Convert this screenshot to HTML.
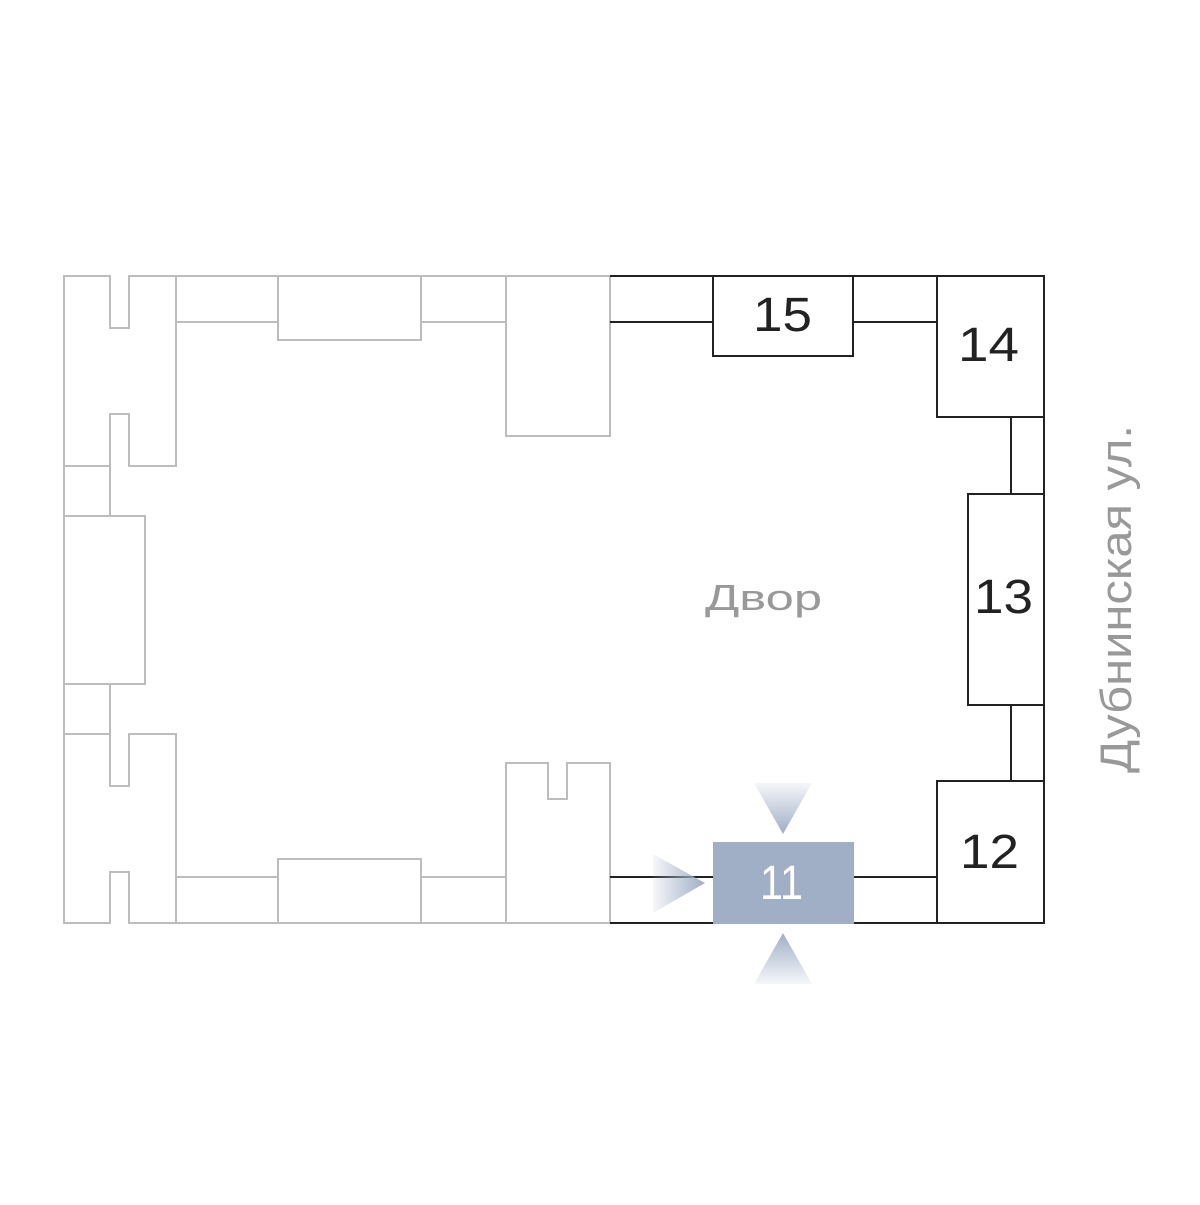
<!DOCTYPE html>
<html><head><meta charset="utf-8"><style>html,body{margin:0;padding:0;background:#fff}</style></head>
<body>
<svg width="1200" height="1200" viewBox="0 0 1200 1200" xmlns="http://www.w3.org/2000/svg">
<defs>
<linearGradient id="gd" x1="0" y1="0" x2="0" y2="1"><stop offset="0" stop-color="#a0aec6" stop-opacity="0.1"/><stop offset="1" stop-color="#a0aec6"/></linearGradient>
<linearGradient id="gu" x1="0" y1="1" x2="0" y2="0"><stop offset="0" stop-color="#a0aec6" stop-opacity="0.1"/><stop offset="1" stop-color="#a0aec6"/></linearGradient>
<linearGradient id="gr" x1="0" y1="0" x2="1" y2="0"><stop offset="0" stop-color="#a0aec6" stop-opacity="0.1"/><stop offset="1" stop-color="#a0aec6"/></linearGradient>
</defs>
<g fill="none" stroke="#bdbdbd" stroke-width="2">
<path d="M64 276H110V328H129V276H176V466H129V414H110V466H64Z"/>
<rect x="64" y="466" width="46" height="50"/>
<rect x="64" y="516" width="81" height="168"/>
<rect x="64" y="684" width="46" height="50"/>
<path d="M64 734H110V786H129V734H176V923H129V872H110V923H64Z"/>
<path d="M176 276H610M176 322H278M421 322H506M176 877H278M421 877H506M176 923H506"/>
<rect x="278" y="276" width="143" height="64"/>
<rect x="506" y="276" width="104" height="160"/>
<rect x="278" y="859" width="143" height="64"/>
<path d="M506 763H548V799H567V763H610V923H506Z"/>
</g>
<g fill="none" stroke="#222" stroke-width="2">
<path d="M610 276H1044V923H610M610 322H713M853 322H937M1011 417V494M1011 705V781M610 877H713M854 877H937"/>
<rect x="713" y="276" width="140" height="80" fill="#fff"/>
<rect x="937" y="276" width="107" height="141" fill="#fff"/>
<rect x="968" y="494" width="76" height="211" fill="#fff"/>
<rect x="937" y="781" width="107" height="142" fill="#fff"/>
</g>
<rect x="713" y="842" width="141" height="82" fill="#a0aec6"/>
<polygon points="754,783 812,783 783,834" fill="url(#gd)"/>
<polygon points="754,984 812,984 783,933" fill="url(#gu)"/>
<polygon points="653,854 653,913 705,883" fill="url(#gr)"/>
<g font-family="Liberation Sans, sans-serif" font-size="48" fill="#222">
<text x="753" y="331" textLength="59" lengthAdjust="spacingAndGlyphs">15</text>
<text x="958" y="361" textLength="61" lengthAdjust="spacingAndGlyphs">14</text>
<text x="974" y="613" textLength="59" lengthAdjust="spacingAndGlyphs">13</text>
<text x="960" y="868" textLength="59" lengthAdjust="spacingAndGlyphs">12</text>
<text x="760" y="899" fill="#fff" textLength="43" lengthAdjust="spacingAndGlyphs">11</text>
</g>
<text x="705" y="610" font-family="Liberation Sans, sans-serif" font-size="36" fill="#999" textLength="117" lengthAdjust="spacingAndGlyphs">Двор</text>
<text transform="translate(1131,773) rotate(-90)" font-family="Liberation Sans, sans-serif" font-size="44" fill="#999" textLength="348" lengthAdjust="spacingAndGlyphs">Дубнинская ул.</text>
</svg>
</body></html>
